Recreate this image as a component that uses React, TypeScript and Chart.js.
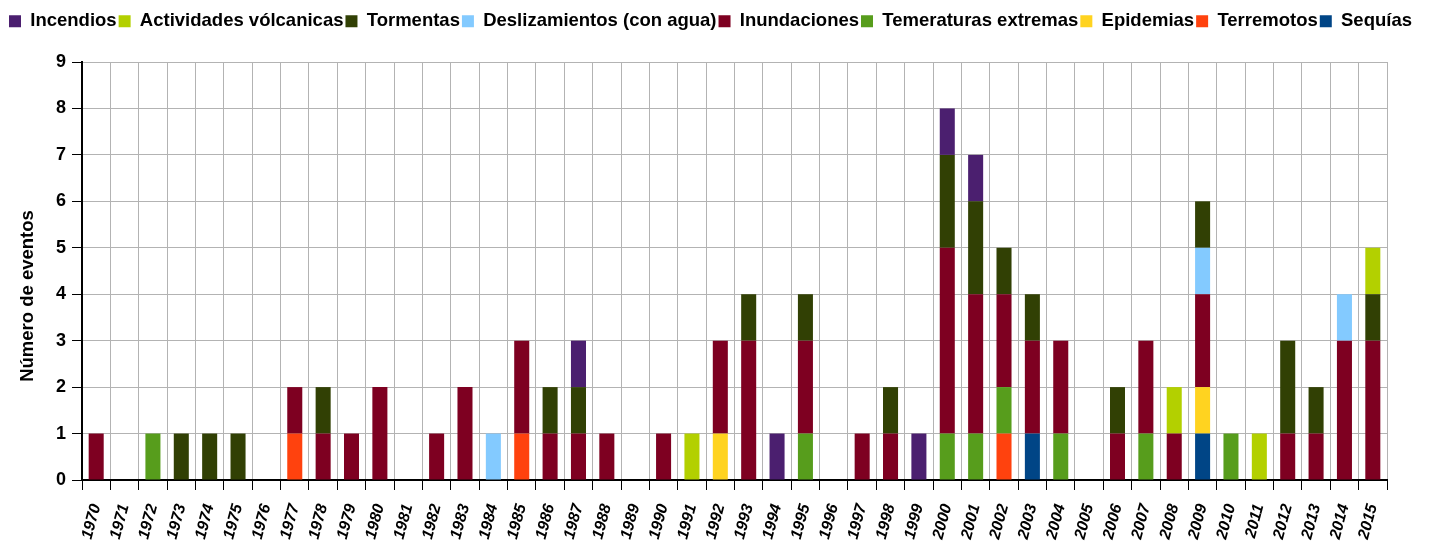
import React, { useEffect, useRef } from 'react';
import { Chart, registerables } from 'chart.js';

Chart.register(...registerables);

const years: string[] = [
  '1970','1971','1972','1973','1974','1975','1976','1977','1978','1979',
  '1980','1981','1982','1983','1984','1985','1986','1987','1988','1989',
  '1990','1991','1992','1993','1994','1995','1996','1997','1998','1999',
  '2000','2001','2002','2003','2004','2005','2006','2007','2008','2009',
  '2010','2011','2012','2013','2014','2015',
];

// stacked bottom -> top
const sequias = [0,0,0,0,0,0,0,0,0,0, 0,0,0,0,0,0,0,0,0,0, 0,0,0,0,0,0,0,0,0,0, 0,0,0,1,0,0,0,0,0,1, 0,0,0,0,0,0];
const terremotos = [0,0,0,0,0,0,0,1,0,0, 0,0,0,0,0,1,0,0,0,0, 0,0,0,0,0,0,0,0,0,0, 0,0,1,0,0,0,0,0,0,0, 0,0,0,0,0,0];
const epidemias = [0,0,0,0,0,0,0,0,0,0, 0,0,0,0,0,0,0,0,0,0, 0,0,1,0,0,0,0,0,0,0, 0,0,0,0,0,0,0,0,0,1, 0,0,0,0,0,0];
const temperaturas = [0,0,1,0,0,0,0,0,0,0, 0,0,0,0,0,0,0,0,0,0, 0,0,0,0,0,1,0,0,0,0, 1,1,1,0,1,0,0,1,0,0, 1,0,0,0,0,0];
const inundaciones = [1,0,0,0,0,0,0,1,1,1, 2,0,1,2,0,2,1,1,1,0, 1,0,2,3,0,2,0,1,1,0, 4,3,2,2,2,0,1,2,1,2, 0,0,1,1,3,3];
const deslizamientos = [0,0,0,0,0,0,0,0,0,0, 0,0,0,0,1,0,0,0,0,0, 0,0,0,0,0,0,0,0,0,0, 0,0,0,0,0,0,0,0,0,1, 0,0,0,0,1,0];
const tormentas = [0,0,0,1,1,1,0,0,1,0, 0,0,0,0,0,0,1,1,0,0, 0,0,0,1,0,1,0,0,1,0, 2,2,1,1,0,0,1,0,0,1, 0,0,2,1,0,1];
const volcanicas = [0,0,0,0,0,0,0,0,0,0, 0,0,0,0,0,0,0,0,0,0, 0,1,0,0,0,0,0,0,0,0, 0,0,0,0,0,0,0,0,1,0, 0,1,0,0,0,1];
const incendios = [0,0,0,0,0,0,0,0,0,0, 0,0,0,0,0,0,0,1,0,0, 0,0,0,0,1,0,0,0,0,1, 1,1,0,0,0,0,0,0,0,0, 0,0,0,0,0,0];

const seriesNames = [
  'Sequías', 'Terremotos', 'Epidemias', 'Temeraturas extremas', 'Inundaciones',
  'Deslizamientos (con agua)', 'Tormentas', 'Actividades vólcanicas', 'Incendios',
];
const seriesColors = [
  '#004586', '#ff420e', '#ffd320', '#579d1c', '#7e0021',
  '#83caff', '#314004', '#b3d000', '#4b1f6f',
];
const seriesValues = [
  sequias, terremotos, epidemias, temperaturas, inundaciones,
  deslizamientos, tormentas, volcanicas, incendios,
];
const yTicks = [0, 1, 2, 3, 4, 5, 6, 7, 8, 9];
const yTitle = 'Número de eventos';

const FONT = "'Liberation Sans', Arial, sans-serif";

export default function App() {
  const ref = useRef<HTMLCanvasElement | null>(null);

  useEffect(() => {
    if (!ref.current) return;
    const legendHeightPlugin = {
      id: 'legendHeight',
      beforeUpdate(chart: any) {
        const lg = chart.legend;
        if (lg && !lg.__patched) {
          const orig = lg.fit;
          lg.fit = function () {
            orig.call(this);
            this.height = 52;
          };
          lg.__patched = true;
        }
      },
    };
    const yTitlePlugin = {
      id: 'yTitle',
      afterDraw(chart: any) {
        const ctx = chart.ctx;
        ctx.save();
        ctx.translate(28, 296);
        ctx.rotate(-Math.PI / 2);
        ctx.font = `bold 18.5px ${FONT}`;
        ctx.fillStyle = '#000';
        ctx.textAlign = 'center';
        ctx.textBaseline = 'middle';
        ctx.fillText(yTitle, 0, 0);
        ctx.restore();
      },
    };
    const chart = new Chart(ref.current, {
      type: 'bar',
      data: {
        labels: years,
        datasets: seriesNames.map((name, i) => ({
          label: name,
          data: seriesValues[i],
          backgroundColor: seriesColors[i],
          borderWidth: 0,
          barPercentage: 0.53,
          categoryPercentage: 1,
        })),
      },
      plugins: [legendHeightPlugin, yTitlePlugin],
      options: {
        animation: false,
        responsive: false,
        maintainAspectRatio: false,
        layout: { padding: { top: 10, right: 8, left: 0, bottom: 0 } },
        plugins: {
          tooltip: { enabled: false },
          legend: {
            display: true,
            position: 'top',
            reverse: true,
            labels: {
              boxWidth: 12,
              boxHeight: 12,
              padding: 2,
              color: '#000',
              font: { family: FONT, size: 18.5, weight: 'bold' },
            },
          },
        },
        scales: {
          x: {
            stacked: true,
            offset: true,
            grid: {
              offset: true,
              color: '#b3b3b3',
              tickColor: '#000',
              tickLength: 10,
              lineWidth: 1,
            },
            border: { color: '#000', width: 2 },
            ticks: {
              color: '#000',
              minRotation: 75,
              maxRotation: 75,
              autoSkip: false,
              padding: 12,
              font: { family: FONT, size: 16, weight: 'bold', style: 'italic' },
            },
            afterFit(scale: any) {
              scale.height = 64;
            },
          },
          y: {
            stacked: true,
            min: 0,
            max: 9,
            afterBuildTicks(scale: any) {
              scale.ticks = yTicks.map((v) => ({ value: v }));
            },
            grid: {
              color: '#b3b3b3',
              tickColor: '#000',
              tickLength: 10,
              lineWidth: 1,
            },
            border: { color: '#000', width: 2 },
            ticks: {
              color: '#000',
              padding: 6,
              font: { family: FONT, size: 18, weight: 'bold' },
            },
            title: { display: false },
            afterFit(scale: any) {
              scale.width = 82;
            },
          },
          yRight: {
            position: 'right',
            display: true,
            grid: { display: false, drawTicks: false },
            border: { display: false },
            ticks: { display: false },
            afterFit(scale: any) {
              scale.width = 34;
            },
          },
        },
      },
    } as any);
    return () => chart.destroy();
  }, []);

  return (
    <div style={{ position: 'absolute', left: 0, top: 0, width: 1429, height: 544, background: '#fff' }}>
      <canvas ref={ref} width={1429} height={544} style={{ display: 'block', width: 1429, height: 544 }} />
    </div>
  );
}
